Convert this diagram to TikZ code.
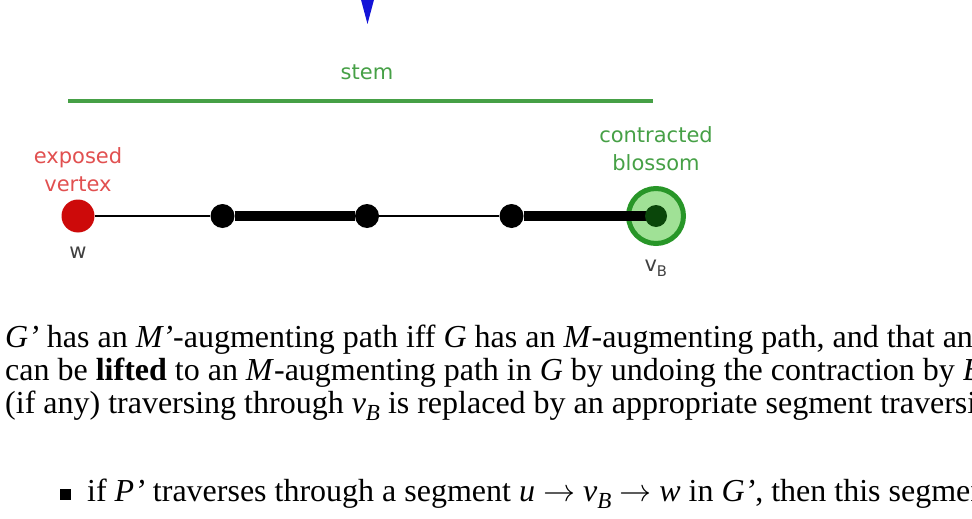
\documentclass[tikz,border=0pt]{standalone}
\usepackage{fontspec}
\usepackage{unicode-math}
\setmainfont{Liberation Serif}
\setmathfont{Latin Modern Math}
\newfontfamily\labelfont{DejaVu Sans}
\usetikzlibrary{arrows.meta,positioning}
\definecolor{exred}{RGB}{205,10,10}
\definecolor{exredtext}{RGB}{225,80,80}
\definecolor{stemgreen}{RGB}{70,160,70}
\definecolor{blossomring}{RGB}{40,150,40}
\definecolor{blossomfill}{RGB}{160,225,150}
\definecolor{blossomcore}{RGB}{10,70,10}
\definecolor{arrowblue}{RGB}{20,20,215}
\newcommand{\vsubB}{\textit{v}\raisebox{-0.22em}{\fontsize{23}{23}\selectfont\textit{B}}}
\newcommand{\segarrow}{\hspace{0.25em}$\rightarrow$\hspace{0.25em}}

\begin{document}
\begin{tikzpicture}[x=1pt,y=-1pt,node distance=144.5pt,on grid,
  vert/.style={circle,fill=black,inner sep=0pt,minimum size=24pt},
  lbl/.style={font=\labelfont\fontsize{21}{28}\selectfont,align=center,inner sep=0pt},
  para/.style={anchor=base west,inner sep=0pt,font=\fontsize{32}{33}\selectfont}]
\useasboundingbox (0,0) rectangle (972,519);
\clip (0,0) rectangle (972,519);
\fill[arrowblue] (360,-4) -- (375,-4) -- (367.5,24) -- cycle;
\coordinate (stemL) at (68,101);
\coordinate (stemR) at (653,101);
\coordinate (stemM) at (367,101);
\draw[stemgreen,line width=4pt] (stemL) -- (stemR);
\node[lbl,text=stemgreen,above=21pt of stemM] (stem) {stem};
\node[circle,fill=exred,inner sep=0pt,minimum size=33pt] (w) at (78,216) {};
\node[vert,right=of w] (a) {};
\node[vert,right=of a] (b) {};
\node[vert,right=of b] (c) {};
\node[circle,draw=blossomring,fill=blossomfill,line width=5pt,inner sep=0pt,minimum size=55pt,right=of c] (vb) {};
\draw[line width=2.5pt] (w) -- (a);
\draw[line width=9.5pt] (a) -- (b);
\draw[line width=2.5pt] (b) -- (c);
\draw[line width=9.5pt] (c) -- (vb.center);
\node[circle,fill=blossomcore,inner sep=0pt,minimum size=22pt] (core) at (vb) {};
\node[lbl,text=exredtext,above=46pt of w] (wlab) {exposed\\vertex};
\node[lbl,text=black!75,below=37pt of w] (wname) {w};
\node[lbl,text=stemgreen,above=67pt of vb] (vblab) {contracted\\blossom};
\node[lbl,text=black!75,below=52pt of vb] (vbname) {v\textsubscript{B}};
\node[para] (l1) at (5,347) {\textit{G’} has an \textit{M’}-augmenting path iff \textit{G} has an \textit{M}-augmenting path, and that any};
\node[para] (l2) at (5,380) {can be \textbf{lifted} to an \textit{M}-augmenting path in \textit{G} by undoing the contraction by \textit{B}};
\node[para] (l3) at (5,413) {(if any) traversing through \vsubB{} is replaced by an appropriate segment traversing};
\node[para] (l4) at (60,501) {\rule[1.5pt]{11pt}{11pt}\hspace{16pt}if \textit{P’} traverses through a segment \textit{u}\segarrow\vsubB\segarrow\textit{w} in \textit{G’}, then this segment};
\end{tikzpicture}
\end{document}
